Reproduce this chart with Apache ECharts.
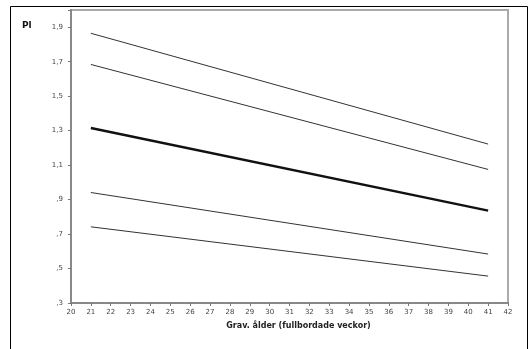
<!DOCTYPE html>
<html><head><meta charset="utf-8">
<script src="https://cdn.jsdelivr.net/npm/echarts@6/dist/echarts.min.js"></script>
<style>html,body{margin:0;padding:0;background:#fff}#c{width:531px;height:349px}</style>
</head><body><div id="c"></div>
<script>
const xStart = 21, xEnd = 41;
const line1 = [1.865, 1.222];
const line2 = [1.684, 1.075];
const line3 = [1.315, 0.836];
const line4 = [0.941, 0.584];
const line5 = [0.742, 0.456];
const yTicks = [0.3, 0.5, 0.7, 0.9, 1.1, 1.3, 1.5, 1.7, 1.9];
const xTicks = [20,21,22,23,24,25,26,27,28,29,30,31,32,33,34,35,36,37,38,39,40,41,42];

function mk(arr, w, col) {
  return {type:'line', data:[[xStart, arr[0]],[xEnd, arr[1]]], symbol:'none',
    lineStyle:{width:w, color:col}, silent:true};
}
const chart = echarts.init(document.getElementById('c'), null, {renderer:'canvas'});
chart.setOption({
  animation:false,
  backgroundColor:'#fff',
  grid:{left:71, right:23, top:10, bottom:46, show:true, borderColor:'#aaa', borderWidth:2},
  xAxis:{type:'value', min:20, max:42, interval:1,
    axisLine:{lineStyle:{color:'#888', width:2}},
    axisTick:{length:3, lineStyle:{color:'#777'}},
    splitLine:{show:false},
    axisLabel:{fontSize:7, color:'#444', fontFamily:'DejaVu Sans', margin:6},
    name:'Grav. ålder (fullbordade veckor)', nameLocation:'middle', nameGap:19,
    nameTextStyle:{fontSize:8, fontWeight:'bold', color:'#222', fontFamily:'DejaVu Sans', padding:[0,0,0,18]}
  },
  yAxis:{type:'value', min:0.3, max:2.0, interval:0.2,
    axisLine:{lineStyle:{color:'#888', width:2}},
    axisTick:{length:3, lineStyle:{color:'#777'}},
    splitLine:{show:false},
    axisLabel:{fontSize:7, color:'#444', fontFamily:'DejaVu Sans', margin:8,
      formatter:function(v){
        if (v > 1.95) return '';
        const s = v.toFixed(1).replace('.', ',');
        return s.startsWith('0') ? s.slice(1) : s;
      }}
  },
  graphic:[
    {type:'rect', shape:{x:10.5, y:6.5, width:517, height:360}, style:{fill:'none', stroke:'#000', lineWidth:1}, silent:true},
    {type:'text', left:22, top:21, style:{text:'Pl', font:'bold 9px DejaVu Sans', fill:'#111'}}
  ],
  series:[
    mk(line1, 1, '#333'),
    mk(line2, 1, '#333'),
    mk(line3, 2.5, '#111'),
    mk(line4, 1, '#333'),
    mk(line5, 1, '#333')
  ]
});
</script></body></html>
